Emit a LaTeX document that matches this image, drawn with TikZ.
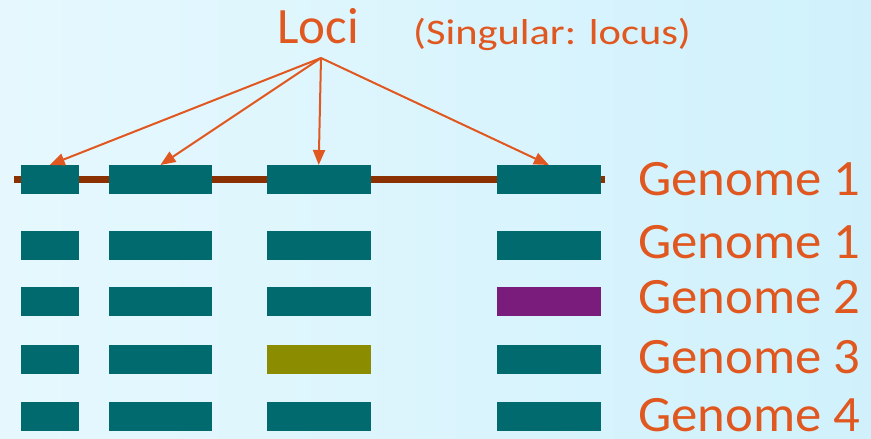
\documentclass[tikz,border=0pt]{standalone}
\usepackage{fontspec}
\setmainfont{Carlito}
\usetikzlibrary{arrows.meta}

\definecolor{locusteal}{RGB}{0,106,110}
\definecolor{locuspurple}{RGB}{122,28,124}
\definecolor{locusolive}{RGB}{140,140,0}
\definecolor{lociorange}{RGB}{224,88,32}
\definecolor{chromred}{RGB}{139,48,0}
\definecolor{bgblue}{RGB}{208,241,252}
\definecolor{bglight}{RGB}{230,248,254}

\begin{document}
\begin{tikzpicture}[x=1pt,y=-1pt,
  locus/.style={fill=locusteal, inner sep=0pt, minimum height=28.5pt, anchor=north west},
  genlabel/.style={text=lociorange, font=\fontsize{51}{60}\selectfont, anchor=base west, inner sep=0pt},
  pointer/.style={draw=lociorange, line width=2pt, -{Triangle[length=15pt,width=12pt]}},
  chrom/.style={draw=chromred, line width=7pt}]
 \shade[left color=bglight, right color=bgblue] (0,0) rectangle (871,439);
 \useasboundingbox (0,0) rectangle (871,439);

 % chromosome of the reference genome
 \coordinate (chromL) at (14,179.5);
 \coordinate (chromR) at (605,179.5);
 \draw[chrom] (chromL) -- (chromR);

 \foreach \r/\y/\colc/\cold in
  {1/165/locusteal/locusteal, 2/231/locusteal/locusteal,
   3/287/locusteal/locuspurple, 4/345/locusolive/locusteal,
   5/402/locusteal/locusteal}
  {
    \foreach \c/\x/\w/\i in
     {1/20.5/58/locusteal, 2/108.5/103.5/locusteal, 3/266.5/104/\colc, 4/497/103.5/\cold}
     \node[locus, fill=\i, minimum width=\w pt] (box\r\c) at (\x,\y) {};
  }

 \foreach \r/\yb/\t in
  {1/195/Genome 1, 2/258/Genome 1, 3/313/Genome 2, 4/373/Genome 3, 5/431/Genome 4}
  \node[genlabel] (genome\r) at (638,\yb) {\scalebox{1.035}[1]{\t}};

 \node[genlabel] (loci) at (277,43) {Loci};
 \node[genlabel, font=\fontsize{36}{44}\selectfont] (singular) at (413,45)
  {\scalebox{1.18}[1]{(Singular: locus)}};

 \coordinate (apex) at (321,58);
 \foreach \c in {1,...,4}
  \draw[pointer] (apex) -- (box1\c.north);
\end{tikzpicture}
\end{document}
